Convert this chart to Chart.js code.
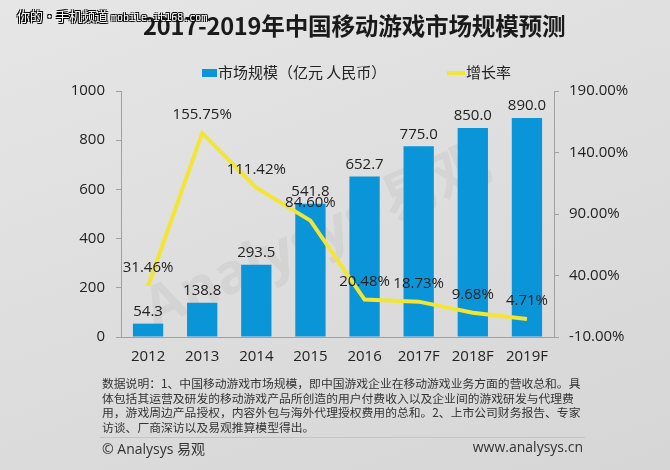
<!DOCTYPE html>
<html>
<head>
<meta charset="utf-8">
<script src="https://cdn.jsdelivr.net/npm/chart.js@4.4.1/dist/chart.umd.min.js"></script>
<style>
  html, body { margin: 0; padding: 0; }
  body {
    width: 670px; height: 470px; position: relative; overflow: hidden;
    background: linear-gradient(160deg, #e6e6e6 0%, #dcdcdc 60%, #d6d6d6 100%);
    font-family: "Open Sans", "Noto Sans CJK SC", sans-serif;
    color: #222;
  }
  #chart { position: absolute; left: 0; top: 0; }
  .abs { position: absolute; white-space: nowrap; }
  #title { left: 143px; top: 8px; font: bold 23.6px "Noto Sans CJK SC", sans-serif; color: #1a1a1a; letter-spacing: -0.2px; }
  #wm { left: 17px; top: 6px; font: 13px "Noto Sans CJK SC", sans-serif; color: #fff;
        text-shadow: -1px -1px 0 #000, 1px -1px 0 #000, -1px 1px 0 #000, 1px 1px 0 #000; }
  #wm span { font: 10px "DejaVu Sans Mono", monospace; }
  .legend { top: 61px; font: 15px "Noto Sans CJK SC", sans-serif; color: #222; }
  .legend i { display: inline-block; vertical-align: middle; margin-right: 1px; position: relative; top: -1px; }
  #notes { left: 102px; top: 376px; font: 11.8px "Noto Sans CJK SC", sans-serif; color: #333; line-height: 14.7px; }
  #rule { left: 100px; top: 437px; width: 485px; height: 1px; background: #c4c4c4; }
  #src { left: 102px; top: 438px; font: 14px "Open Sans", "Noto Sans CJK SC", sans-serif; color: #333; }
  #url { right: 87px; top: 437px; font: 14px "Open Sans", sans-serif; color: #333; }
</style>
</head>
<body>
<canvas id="chart" width="670" height="470"></canvas>
<div class="abs" id="title">2017-2019年中国移动游戏市场规模预测</div>
<div class="abs" id="wm">你的·手机频道 <span>mobile.it168.com</span></div>
<div class="abs legend" style="left:202px"><i style="width:15px;height:8px;background:#0b95d9"></i>市场规模（亿元 人民币）</div>
<div class="abs legend" style="left:447px"><i style="width:18px;height:4px;background:#f2e535"></i>增长率</div>
<div class="abs" id="notes">
  <div>数据说明：1、中国移动游戏市场规模，即中国游戏企业在移动游戏业务方面的营收总和。具</div>
  <div>体包括其运营及研发的移动游戏产品所创造的用户付费收入以及企业间的游戏研发与代理费</div>
  <div>用，游戏周边产品授权，内容外包与海外代理授权费用的总和。2、上市公司财务报告、专家</div>
  <div>访谈、厂商深访以及易观推算模型得出。</div>
</div>
<div class="abs" id="rule"></div>
<div class="abs" id="src">© Analysys 易观</div>
<div class="abs" id="url">www.analysys.cn</div>
<script>
// data
const years = ['2012', '2013', '2014', '2015', '2016', '2017F', '2018F', '2019F'];
const marketSize = [54.3, 138.8, 293.5, 541.8, 652.7, 775.0, 850.0, 890.0];   // 亿元
const growthRate = [31.46, 155.75, 111.42, 84.60, 20.48, 18.73, 9.68, 4.71];  // %
const leftTicks = { min: 0, max: 1000, step: 200 };
const rightTicks = { min: -10, max: 190, step: 50 };

const labelFont = '15px "Open Sans", "Noto Sans CJK SC", sans-serif';

// faint "Analysys 易观" watermark behind the marks
const watermark = {
  id: 'watermark',
  beforeDatasetsDraw(chart) {
    const ctx = chart.ctx;
    ctx.save();
    ctx.translate(318, 238);
    ctx.rotate(-0.42);
    ctx.fillStyle = 'rgba(140,140,140,0.12)';
    ctx.font = 'bold 56px "Open Sans", "Noto Sans CJK SC", sans-serif';
    ctx.textAlign = 'center';
    ctx.textBaseline = 'middle';
    ctx.fillText('Analysys 易观', 0, 0);
    ctx.restore();
  }
};

// value labels above bars and line points
const valueLabels = {
  id: 'valueLabels',
  afterDatasetsDraw(chart) {
    const ctx = chart.ctx;
    ctx.save();
    ctx.font = labelFont;
    ctx.fillStyle = '#222';
    ctx.textAlign = 'center';
    ctx.textBaseline = 'middle';
    chart.getDatasetMeta(1).data.forEach((bar, i) => {
      ctx.fillText(marketSize[i].toFixed(1), bar.x, bar.y - 12);
    });
    chart.getDatasetMeta(0).data.forEach((pt, i) => {
      ctx.fillText(growthRate[i].toFixed(2) + '%', pt.x, pt.y - 18);
    });
    ctx.restore();
  }
};

new Chart(document.getElementById('chart'), {
  data: {
    labels: years,
    datasets: [
      {
        type: 'line',
        label: '增长率',
        data: growthRate,
        yAxisID: 'y1',
        borderColor: '#f2e535',
        borderWidth: 4,
        pointRadius: 0,
        tension: 0,
        order: 0
      },
      {
        type: 'bar',
        label: '市场规模（亿元 人民币）',
        data: marketSize,
        yAxisID: 'y',
        backgroundColor: '#0b95d9',
        categoryPercentage: 1,
        barPercentage: 0.56,
        order: 1
      }
    ]
  },
  options: {
    responsive: false,
    animation: false,
    layout: { padding: { top: 91, left: 0, right: 0, bottom: 0 } },
    plugins: { legend: { display: false }, tooltip: { enabled: false }, title: { display: false } },
    scales: {
      x: {
        grid: { display: false, drawTicks: false },
        border: { color: '#a0a0a0' },
        ticks: { color: '#222', font: { size: 15, family: '"Open Sans", sans-serif' }, padding: 11 },
        afterFit(scale) { scale.height = 133; }
      },
      y: {
        position: 'left',
        min: leftTicks.min, max: leftTicks.max,
        grid: { drawOnChartArea: false, tickLength: 5, color: '#a0a0a0' },
        border: { color: '#a0a0a0' },
        ticks: {
          stepSize: leftTicks.step, color: '#222', font: { size: 15, family: '"Open Sans", sans-serif' }, padding: 11,
          callback: v => String(v)
        },
        afterFit(scale) { scale.width = 121; }
      },
      y1: {
        position: 'right',
        min: rightTicks.min, max: rightTicks.max,
        grid: { drawOnChartArea: false, tickLength: 5, color: '#a0a0a0' },
        border: { color: '#a0a0a0' },
        ticks: {
          stepSize: rightTicks.step, color: '#222', font: { size: 15, family: '"Open Sans", sans-serif' }, padding: 10,
          callback: v => v.toFixed(2) + '%'
        },
        afterFit(scale) { scale.width = 116; }
      }
    }
  },
  plugins: [watermark, valueLabels]
});
</script>
</body>
</html>
